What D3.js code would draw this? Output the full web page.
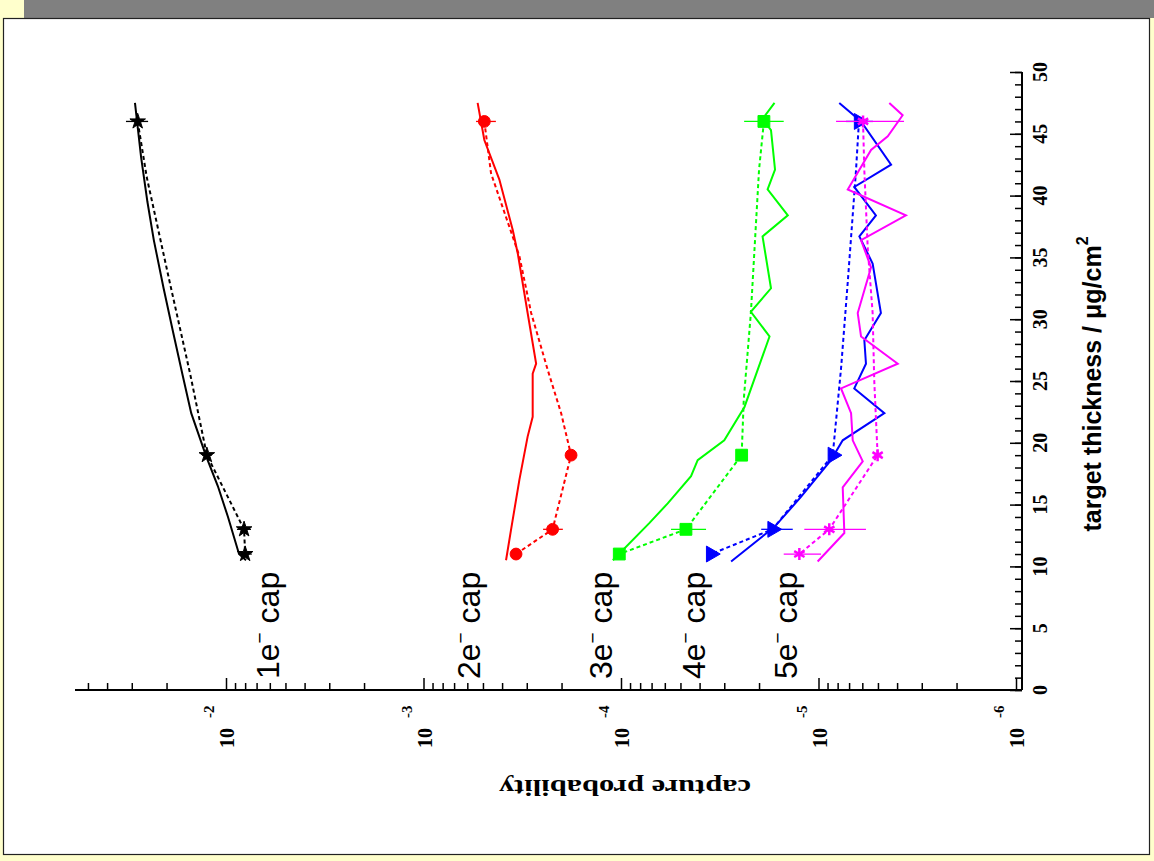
<!DOCTYPE html>
<html>
<head>
<meta charset="utf-8">
<script src="https://cdn.jsdelivr.net/npm/d3@7"></script>
<style>
body { margin: 0; background: #ffffcc; }
svg { display: block; }
</style>
</head>
<body>
<svg id="chart" width="1154" height="861"></svg>
<script>
// capture probability vs target thickness (plot turned on its side)
const thickTicks = d3.range(0, 51, 5);
const thickMinor = d3.range(0, 51, 1);
const probDecades = [1e-2, 1e-3, 1e-4, 1e-5, 1e-6];
const probExponents = ["-2", "-3", "-4", "-5", "-6"];
const measThick = [46, 19, 13, 11];
const groupNames = ["1", "2", "3", "4", "5"];

// measured points and their error bars [low, high]
const meas1 = [2.8e-2, 1.25e-2, 8.1e-3, 8.0e-3];
const err1 = [[2.48e-2, 3.21e-2], [1.18e-2, 1.32e-2], [7.47e-3, 8.8e-3], [7.4e-3, 8.6e-3]];
const meas2 = [4.92e-4, 1.79e-4, 2.22e-4, 3.40e-4];
const err2 = [[4.30e-4, 5.42e-4], [1.70e-4, 1.90e-4], [1.97e-4, 2.48e-4], [3.2e-4, 3.6e-4]];
const meas3 = [1.89e-5, 2.45e-5, 4.69e-5, 1.02e-4];
const err3 = [[1.50e-5, 2.38e-5], [2.35e-5, 2.55e-5], [3.71e-5, 5.58e-5], [0.96e-4, 1.08e-4]];
const meas4 = [6.24e-6, 8.47e-6, 1.71e-5, 3.50e-5];
const err4 = [[5.30e-6, 7.26e-6], [8.1e-6, 8.9e-6], [1.35e-5, 1.95e-5], [3.35e-5, 3.65e-5]];
const meas5 = [5.95e-6, 5.02e-6, 8.82e-6, 1.25e-5];
const err5 = [[3.69e-6, 8.15e-6], [4.8e-6, 5.25e-6], [5.75e-6, 1.18e-5], [9.71e-6, 1.50e-5]];

// dashed curves through the measurements [thickness, probability]
const fit1 = [[46, 2.8e-2], [41.5, 2.52e-2], [33.2, 1.94e-2], [25.6, 1.52e-2], [19, 1.25e-2], [13, 8.1e-3], [11, 8.0e-3]];
const fit2 = [[46, 4.92e-4], [41.8, 4.55e-4], [35.1, 3.27e-4], [30.5, 2.85e-4], [25.9, 2.35e-4], [22.4, 2.01e-4], [19, 1.79e-4], [13, 2.22e-4], [11, 3.40e-4]];
const fit3 = [[46, 1.89e-5], [42.1, 2.00e-5], [30.5, 2.20e-5], [23.5, 2.39e-5], [19, 2.45e-5], [13, 4.69e-5], [11, 1.02e-4]];
const fit4 = [[46, 6.24e-6], [42, 6.46e-6], [33, 7.11e-6], [26, 7.69e-6], [19, 8.47e-6], [13, 1.71e-5], [11, 3.50e-5]];
const fit5 = [[46, 5.95e-6], [42, 5.86e-6], [35.7, 5.63e-6], [30.5, 5.32e-6], [25, 5.22e-6], [19, 5.02e-6], [13, 8.82e-6], [11, 1.25e-5]];

// simulation (solid lines)
const sim1 = [[47.5, 2.89e-2], [43.1, 2.69e-2], [39.5, 2.50e-2], [36.4, 2.32e-2], [32.5, 2.07e-2], [28.9, 1.85e-2], [25.5, 1.66e-2], [22.4, 1.50e-2], [18.9, 1.26e-2], [16.5, 1.10e-2], [14, 9.77e-3], [11, 8.59e-3], [10.5, 7.92e-3]];
const sim2 = [[47.5, 5.32e-4], [44.5, 4.92e-4], [41.3, 4.13e-4], [37.2, 3.53e-4], [35.3, 3.33e-4], [30.5, 2.97e-4], [26.4, 2.69e-4], [25.6, 2.80e-4], [22.1, 2.80e-4], [20.5, 2.97e-4], [17, 3.27e-4], [12.9, 3.61e-4], [10.5, 3.82e-4]];
const sim3 = [[47.5, 1.67e-5], [46.2, 1.92e-5], [45.3, 1.74e-5], [42.1, 1.66e-5], [40.5, 1.81e-5], [38.4, 1.43e-5], [36.7, 1.92e-5], [32.5, 1.74e-5], [30.6, 2.20e-5], [28.6, 1.77e-5], [22.9, 2.37e-5], [20.2, 3.00e-5], [18.6, 4.09e-5], [17.3, 4.42e-5], [15.1, 5.80e-5], [13.5, 7.19e-5], [10.5, 1.10e-4]];
const sim4 = [[47.5, 7.85e-6], [46, 6.09e-6], [42.5, 4.29e-6], [40.7, 6.59e-6], [38.4, 5.12e-6], [36.7, 6.21e-6], [34.5, 5.32e-6], [30.5, 4.83e-6], [28.3, 5.86e-6], [26.4, 5.75e-6], [24.4, 6.59e-6], [22.4, 4.64e-6], [20.2, 7.54e-6], [18.6, 8.65e-6], [15.6, 1.23e-5], [13.2, 1.67e-5], [10.4, 2.77e-5]];
const sim5 = [[47.5, 4.38e-6], [46.5, 3.75e-6], [44.8, 4.46e-6], [43.7, 5.42e-6], [40.5, 7.11e-6], [38.4, 3.61e-6], [36.4, 6.09e-6], [34.2, 5.42e-6], [30.5, 6.33e-6], [28.6, 6.09e-6], [26.4, 3.97e-6], [24.4, 7.69e-6], [22.4, 6.84e-6], [20.2, 6.71e-6], [18.5, 5.97e-6], [16.4, 7.54e-6], [12.7, 7.40e-6], [10.4, 1.01e-5]];

const series = [
    { color: "#000000", sim: sim1, fit: fit1, meas: meas1, err: err1, symbol: d3.symbolStar, size: 75, rot: 0 },
    { color: "#ff0000", sim: sim2, fit: fit2, meas: meas2, err: err2, symbol: d3.symbolCircle, size: 110, rot: 0 },
    { color: "#00ff00", sim: sim3, fit: fit3, meas: meas3, err: err3, symbol: d3.symbolSquare, size: 140, rot: 0 },
    { color: "#0000ff", sim: sim4, fit: fit4, meas: meas4, err: err4, symbol: d3.symbolTriangle, size: 110, rot: 90 },
    { color: "#ff00ff", sim: sim5, fit: fit5, meas: meas5, err: err5, symbol: d3.symbolAsterisk, size: 100, rot: 0 }
];

const axisY = 690;   // pixel row of the probability axis
const axisX = 1022;  // pixel column of the thickness axis
const axisLeft = 75;

const x = d3.scaleLog().domain([1e-2, 1e-6]).range([226, 1016]);
const y = d3.scaleLinear().domain([0, 50]).range([axisY, 72]);

const svg = d3.select("#chart");

// page frame
svg.append("rect").attr("x", 0).attr("y", 0).attr("width", 1154).attr("height", 861).attr("fill", "#ffffcc");
svg.append("rect").attr("x", 24).attr("y", 0).attr("width", 1130).attr("height", 18).attr("fill", "#808080");
svg.append("rect").attr("x", 3.5).attr("y", 18.5).attr("width", 1146).attr("height", 836)
    .attr("fill", "#ffffff").attr("stroke", "#222").attr("stroke-width", 1.2);

// thickness axis (right, vertical)
svg.append("g")
    .attr("transform", `translate(${axisX},0)`)
    .call(d3.axisRight(y).tickValues(thickMinor).tickSizeInner(-7).tickSizeOuter(0).tickFormat(""))
    .call(g => g.select(".domain").remove())
    .selectAll("line").attr("stroke-width", 1.5);
svg.append("g")
    .attr("transform", `translate(${axisX},0)`)
    .call(d3.axisRight(y).tickValues(thickTicks).tickSizeInner(-12).tickSizeOuter(0).tickFormat(""))
    .call(g => g.select(".domain").remove())
    .selectAll("line").attr("stroke-width", 1.5);
svg.append("line")
    .attr("x1", axisX).attr("x2", axisX).attr("y1", y(50)).attr("y2", axisY)
    .attr("stroke", "#000").attr("stroke-width", 2);

svg.append("g").selectAll("text")
    .data(thickTicks)
    .join("text")
    .attr("transform", d => `translate(${axisX + 25},${y(d)}) rotate(-90)`)
    .attr("text-anchor", "middle")
    .attr("font-family", "Liberation Serif, serif")
    .attr("font-weight", "bold")
    .attr("font-size", 20)
    .text(d => d);

const tTitle = svg.append("text")
    .attr("transform", `translate(1101,384) rotate(-90)`)
    .attr("text-anchor", "middle")
    .attr("font-family", "Liberation Sans, Arial, sans-serif")
    .attr("font-weight", "bold")
    .attr("font-size", 25);
tTitle.append("tspan").text("target thickness / μg/cm");
tTitle.append("tspan").attr("dy", -13).attr("font-size", 16).text("2");

// probability axis (bottom, log)
const pMax = x.invert(axisLeft);
const pMin = x.invert(axisX);
const minorTicks = [];
for (let e = -1; e >= -7; e--) {
    for (let k = 2; k <= 9; k++) {
        const v = k * Math.pow(10, e);
        if (v < pMax && v > pMin) minorTicks.push(v);
    }
}
svg.append("g")
    .attr("transform", `translate(0,${axisY})`)
    .call(d3.axisBottom(x).tickValues(minorTicks).tickSizeInner(-7).tickSizeOuter(0).tickFormat(""))
    .call(g => g.select(".domain").remove())
    .selectAll("line").attr("stroke-width", 1.5);
svg.append("g")
    .attr("transform", `translate(0,${axisY})`)
    .call(d3.axisBottom(x).tickValues(probDecades).tickSizeInner(-12).tickSizeOuter(0).tickFormat(""))
    .call(g => g.select(".domain").remove())
    .selectAll("line").attr("stroke-width", 1.5);
svg.append("line")
    .attr("x1", axisLeft).attr("x2", axisX).attr("y1", axisY).attr("y2", axisY)
    .attr("stroke", "#000").attr("stroke-width", 2);

const decLabels = svg.append("g").selectAll("g")
    .data(probDecades)
    .join("g");
decLabels.append("text")
    .attr("transform", d => `translate(${x(d) + 8},748) rotate(-90)`)
    .attr("font-family", "Liberation Serif, serif")
    .attr("font-weight", "bold")
    .attr("font-size", 20)
    .text("10");
decLabels.append("text")
    .attr("transform", d => `translate(${x(d) - 12},718) rotate(-90)`)
    .attr("font-family", "Liberation Serif, serif")
    .attr("font-weight", "bold")
    .attr("font-size", 15)
    .text((d, i) => probExponents[i]);

svg.append("text")
    .attr("transform", "translate(625,780) rotate(180)")
    .attr("text-anchor", "middle")
    .attr("font-family", "Liberation Serif, serif")
    .attr("font-weight", "bold")
    .attr("font-size", 23)
    .attr("textLength", 252)
    .attr("lengthAdjust", "spacingAndGlyphs")
    .text("capture probability");

// lines
const line = d3.line().x(d => x(d[1])).y(d => y(d[0]));

series.forEach(s => {
    svg.append("path")
        .attr("d", line(s.sim))
        .attr("fill", "none")
        .attr("stroke", s.color)
        .attr("stroke-width", 2);
    svg.append("path")
        .attr("d", line(s.fit))
        .attr("fill", "none")
        .attr("stroke", s.color)
        .attr("stroke-width", 2)
        .attr("stroke-dasharray", "4,3");
});

// error bars and markers
series.forEach(s => {
    svg.append("g").selectAll("line")
        .data(s.err)
        .join("line")
        .attr("x1", d => x(d[0]))
        .attr("x2", d => x(d[1]))
        .attr("y1", (d, i) => y(measThick[i]))
        .attr("y2", (d, i) => y(measThick[i]))
        .attr("stroke", s.color)
        .attr("stroke-width", 1.3);
    const sym = d3.symbol().type(s.symbol).size(s.size);
    const stroked = s.symbol === d3.symbolAsterisk;
    svg.append("g").selectAll("path")
        .data(s.meas)
        .join("path")
        .attr("transform", (d, i) => `translate(${x(d)},${y(measThick[i])}) rotate(${s.rot})`)
        .attr("d", sym)
        .attr("fill", stroked ? "none" : s.color)
        .attr("stroke", s.color)
        .attr("stroke-width", stroked ? 2.5 : 1);
});

// group labels
const labelX = [279, 480, 612, 705, 797];
groupNames.forEach((n, i) => {
    const t = svg.append("text")
        .attr("transform", `translate(${labelX[i]},679) rotate(-90)`)
        .attr("font-family", "Liberation Sans, Arial, sans-serif")
        .attr("font-size", 32)
        .attr("fill", "#000");
    t.append("tspan").text(n + "e");
    t.append("tspan").attr("dy", -13).attr("font-size", 19).text("−");
    t.append("tspan").attr("dy", 13).text(" cap");
});
</script>
</body>
</html>
